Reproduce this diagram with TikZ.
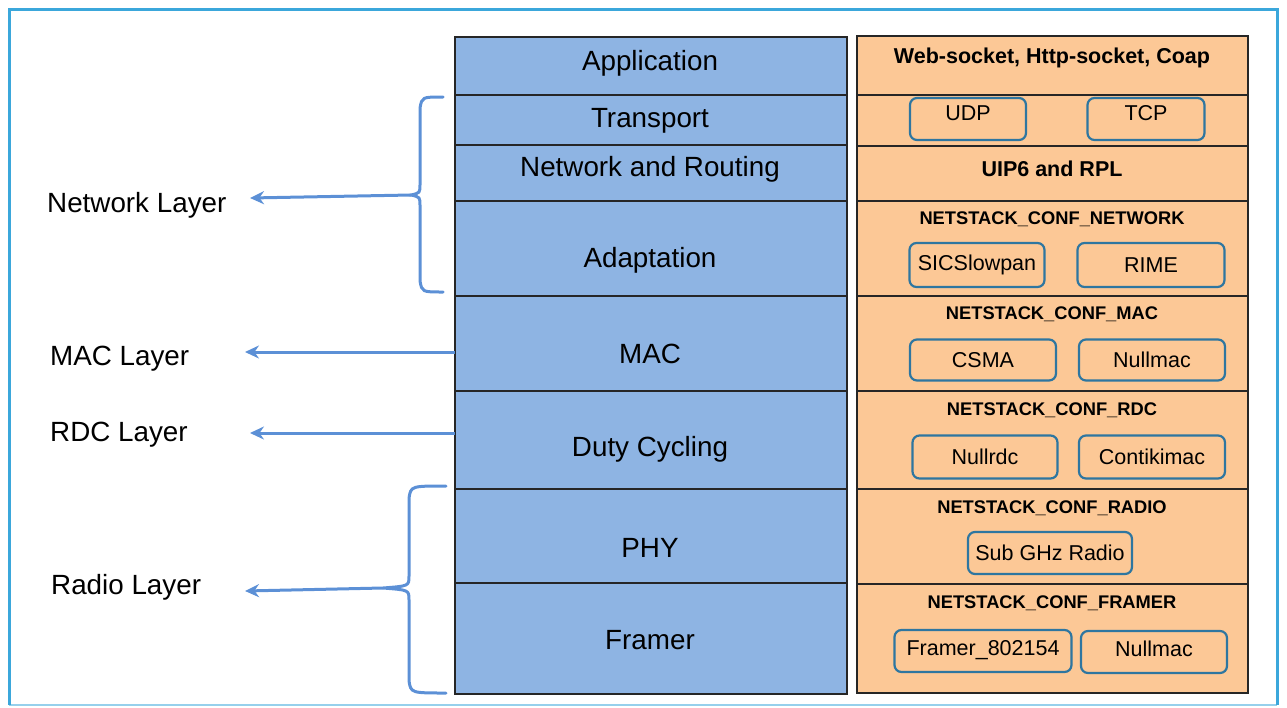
\documentclass[tikz,border=0pt]{standalone}
\usepackage{fontspec}
\setmainfont{Liberation Sans}
\usetikzlibrary{arrows.meta}

\definecolor{frameblue}{RGB}{59,167,219}
\definecolor{framelight}{RGB}{150,208,236}
\definecolor{layerblue}{RGB}{142,180,227}
\definecolor{confpeach}{RGB}{252,200,150}
\definecolor{boxteal}{RGB}{46,118,160}
\definecolor{braceblue}{RGB}{92,144,214}

\tikzset{
  layercell/.style={draw=black!85, line width=1.6pt, fill=layerblue, anchor=north west,
    minimum width=392pt, inner sep=0pt, outer sep=0pt},
  confcell/.style={draw=black!85, line width=1.6pt, fill=confpeach, anchor=north west,
    minimum width=391pt, inner sep=0pt, outer sep=0pt},
  layertext/.style={font=\fontsize{27.8}{30}\selectfont, inner sep=0pt, yshift=-2.5pt},
  sidetext/.style={font=\fontsize{27.8}{30}\selectfont, inner sep=0pt, anchor=west, yshift=-2.5pt},
  conftitle/.style={font=\bfseries\fontsize{21.5}{24}\selectfont, inner sep=0pt, yshift=-2.5pt},
  confhead/.style={font=\bfseries\fontsize{18.3}{20}\selectfont, inner sep=0pt, yshift=-1.5pt},
  modbox/.style={draw=boxteal, line width=2.2pt, rounded corners=7pt, fill=confpeach,
    inner sep=0pt, font=\fontsize{21.5}{24}\selectfont},
  raisedbox/.style={modbox, text depth=12pt},
  brace/.style={draw=braceblue, line width=3pt, line cap=round},
  arr/.style={draw=braceblue, line width=3pt, -{Stealth[length=14pt,width=13pt]}}
}

\begin{document}
\begin{tikzpicture}[x=1pt,y=-1pt]
        \useasboundingbox (0,0) rectangle (1287,707);

        % Outer frame
        \draw [framelight, line width=2pt] (9,705) -- (1277,705);%
        \draw [frameblue, line width=3pt] (9,705) -- (9,9) -- (1277,9) -- (1277,705);%

        % Layer column
        \node [layercell, minimum height=58pt] (app) at (455,37) {};%
        \node [layercell, minimum height=50pt] (trans) at (455,95) {};%
        \node [layercell, minimum height=56pt] (route) at (455,145) {};%
        \node [layercell, minimum height=95pt] (adapt) at (455,201) {};%
        \node [layercell, minimum height=95pt] (mac) at (455,296) {};%
        \node [layercell, minimum height=98pt] (rdc) at (455,391) {};%
        \node [layercell, minimum height=94pt] (phy) at (455,489) {};%
        \node [layercell, minimum height=111pt] (framer) at (455,583) {};%

        \node [layertext] (appTxt) at (650,61) {Application};%
        \node [layertext] (transTxt) at (650,118) {Transport};%
        \node [layertext] (routeTxt) at (650,167) {Network and Routing};%
        \node [layertext] (adaptTxt) at (650,258) {Adaptation};%
        \node [layertext] (macTxt) at (650,351) {MAC};%
        \node [layertext] (rdcTxt) at (650,447) {Duty Cycling};%
        \node [layertext] (phyTxt) at (650,545) {PHY};%
        \node [layertext] (framerTxt) at (650,638) {Framer};%

        % Contiki configuration column
        \node [confcell, minimum height=59pt] (appConf) at (857,36) {};%
        \node [confcell, minimum height=51pt] (transConf) at (857,95) {};%
        \node [confcell, minimum height=55pt] (routeConf) at (857,146) {};%
        \node [confcell, minimum height=95pt] (netConf) at (857,201) {};%
        \node [confcell, minimum height=95pt] (macConf) at (857,296) {};%
        \node [confcell, minimum height=98pt] (rdcConf) at (857,391) {};%
        \node [confcell, minimum height=95pt] (radioConf) at (857,489) {};%
        \node [confcell, minimum height=109pt] (framerConf) at (857,584) {};%

        \node [conftitle] (appConfTxt) at (1052,55) {Web-socket, Http-socket, Coap};%
        \node [raisedbox, minimum width=116pt, minimum height=42pt] (udp) at (968,119) {UDP};%
        \node [raisedbox, minimum width=117pt, minimum height=42pt] (tcp) at (1146,119) {TCP};%
        \node [conftitle] (routeConfTxt) at (1052,166) {UIP6 and RPL};%

        \node [confhead] (netHead) at (1052,218) {NETSTACK\_CONF\_NETWORK};%
        \node [modbox, minimum width=135pt, minimum height=44pt] (sics) at (977,265) {SICSlowpan};%
        \node [modbox, minimum width=147pt, minimum height=44pt] (rime) at (1151,265) {RIME};%

        \node [confhead] (macHead) at (1052,313) {NETSTACK\_CONF\_MAC};%
        \node [modbox, minimum width=146pt, minimum height=41pt] (csma) at (983,360) {CSMA};%
        \node [modbox, minimum width=146pt, minimum height=41pt] (nullmacA) at (1152,360) {Nullmac};%

        \node [confhead] (rdcHead) at (1052,409) {NETSTACK\_CONF\_RDC};%
        \node [modbox, minimum width=145pt, minimum height=43pt] (nullrdc) at (985,457) {Nullrdc};%
        \node [modbox, minimum width=146pt, minimum height=43pt] (contiki) at (1152,457) {Contikimac};%

        \node [confhead] (radioHead) at (1052,507) {NETSTACK\_CONF\_RADIO};%
        \node [modbox, minimum width=164pt, minimum height=42pt] (subghz) at (1050,553) {Sub GHz Radio};%

        \node [confhead] (framerHead) at (1052,602) {NETSTACK\_CONF\_FRAMER};%
        \node [raisedbox, text depth=6pt, minimum width=177pt, minimum height=42pt] (f802) at (983,651) {Framer\_802154};%
        \node [raisedbox, text depth=6pt, minimum width=146pt, minimum height=42pt] (nullmacB) at (1154,652) {Nullmac};%

        % Side labels
        \node [sidetext] (netLbl) at (47,203) {Network Layer};%
        \node [sidetext] (macLbl) at (50,356) {MAC Layer};%
        \node [sidetext] (rdcLbl) at (50,432) {RDC Layer};%
        \node [sidetext] (radioLbl) at (51,585) {Radio Layer};%

        \coordinate (netTip) at (250,198);%
        \coordinate (macTip) at (245,352);%
        \coordinate (rdcTip) at (250,433);%
        \coordinate (radioTip) at (245,591);%
        \coordinate (netCusp) at (411,195);%
        \coordinate (radioCusp) at (383,588);%

        % Network bracket
        \draw [brace] (443,97) .. controls (422,97) .. (420,108) -- (420,184)
              .. controls (420,193) .. (netCusp) .. controls (420,197) .. (420,206)
              -- (420,281) .. controls (422,292) .. (443,292);%
        \draw [arr] (netCusp) -- (netTip);%

        % Arrows for MAC and RDC
        \draw [arr] (mac.west |- macTip) -- (macTip);%
        \draw [arr] (rdc.west |- rdcTip) -- (rdcTip);%

        % Radio bracket
        \draw [brace] (446,486) .. controls (411,486) .. (409,498) -- (409,576)
              .. controls (409,586) .. (radioCusp) .. controls (409,590) .. (409,600)
              -- (409,681) .. controls (411,693) .. (446,693);%
        \draw [arr] (radioCusp) -- (radioTip);%
\end{tikzpicture}
\end{document}
